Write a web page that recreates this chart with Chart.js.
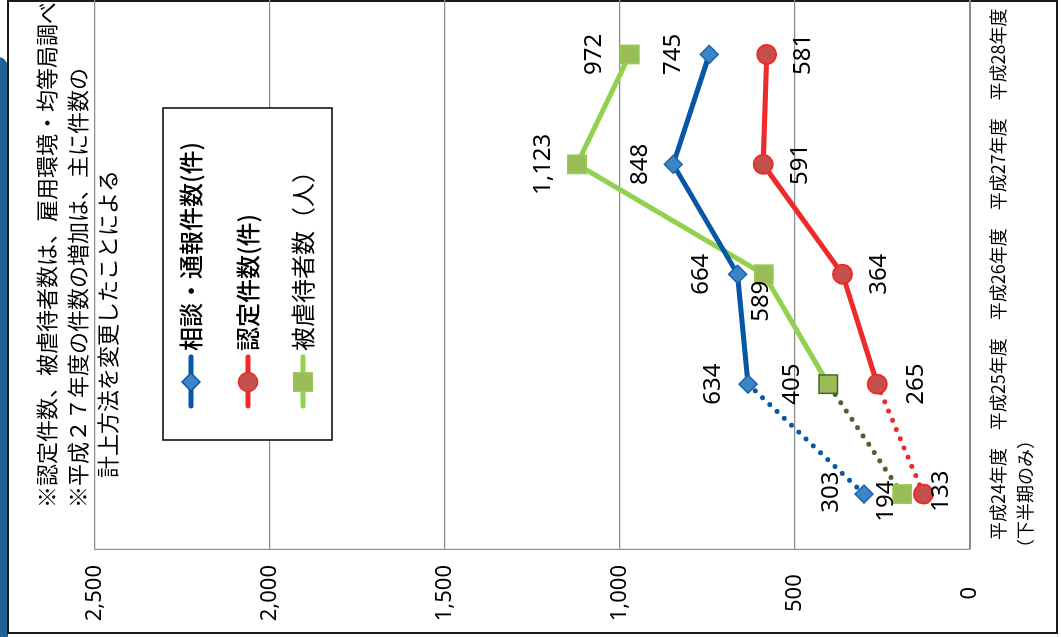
<!DOCTYPE html>
<html>
<head>
<meta charset="utf-8">
<script src="https://cdn.jsdelivr.net/npm/chart.js@4.4.1/dist/chart.umd.min.js"></script>
<style>
html, body { margin: 0; padding: 0; background: #fff; overflow: hidden; }
/* the chart is laid out upright and then turned a quarter to the left;
   the extra 15px of canvas width falls off the top edge of the page */
#wrap { position: absolute; left: 0; top: 0; width: 652px; height: 1061px;
        transform-origin: 0 0; transform: translateY(637px) rotate(-90deg); }
</style>
</head>
<body>
<div id="wrap"><canvas id="chart" width="652" height="1061"></canvas></div>
<script>
// data
const years = [['平成24年度', '（下半期のみ）'], '平成25年度', '平成26年度', '平成27年度', '平成28年度'];
const consultations = [303, 634, 664, 848, 745];
const certified = [133, 265, 364, 591, 581];
const victims = [194, 405, 589, 1123, 972];
const valueTicks = [0, 500, 1000, 1500, 2000, 2500];
const seriesNames = ['相談・通報件数(件)', '認定件数(件)', '被虐待者数（人）'];
const notes = [
    '※認定件数、被虐待者数は、雇用環境・均等局調べ',
    '※平成２７年度の件数の増加は、主に件数の',
    '計上方法を変更したことによる'
];

const JP = '"Noto Sans CJK JP", "Noto Sans", sans-serif';
const NUM = '"Noto Sans", "Liberation Sans", sans-serif';

// first segment (H24 -> H25) is dotted
function dotted(ctx) {
    return ctx.p0DataIndex === 0 ? [0, 10] : undefined;
}

function drawMarker(c, style, x, y, r, fill, stroke, bw) {
    c.save();
    c.fillStyle = fill;
    c.strokeStyle = stroke;
    c.lineWidth = bw;
    c.beginPath();
    if (style === 'circle') {
        c.arc(x, y, r, 0, Math.PI * 2);
    } else if (style === 'rectRot') {
        c.moveTo(x, y - r); c.lineTo(x + r, y); c.lineTo(x, y + r); c.lineTo(x - r, y); c.closePath();
    } else {
        const s = r * Math.SQRT1_2;
        c.rect(x - s, y - s, 2 * s, 2 * s);
    }
    c.fill();
    c.stroke();
    c.restore();
}

const decor = {
    id: 'decor',
    beforeDraw(chart) {
        const c = chart.ctx;
        c.save();
        c.fillStyle = '#fff';
        c.fillRect(0, 0, chart.width, chart.height);
        c.fillStyle = '#23609a';
        c.beginPath();
        c.roundRect(-20, -20, 600, 28, 10);
        c.fill();
        c.strokeStyle = '#1a1a1a';
        c.lineWidth = 2;
        c.strokeRect(4, 8, 632, 1049);
        c.restore();
    },
    afterDatasetsDraw(chart) {
        const c = chart.ctx;
        c.save();
        c.font = '24px ' + NUM;
        c.fillStyle = '#000';
        c.textAlign = 'center';
        c.textBaseline = 'middle';
        chart.data.datasets.forEach((ds, i) => {
            chart.getDatasetMeta(i).data.forEach((pt, j) => {
                const off = ds.labelShift[j];
                c.fillText(ds.data[j].toLocaleString('en-US'), pt.x + off[0], pt.y + off[1]);
            });
        });
        c.restore();
    },
    afterDraw(chart) {
        const c = chart.ctx;
        c.save();
        // notes
        c.font = '22px ' + JP;
        c.fillStyle = '#000';
        c.textBaseline = 'middle';
        c.textAlign = 'left';
        c.fillText(notes[0], 129, 47);
        c.fillText(notes[1], 129, 78);
        c.fillText(notes[2], 159, 108);
        // legend
        c.fillStyle = '#fff';
        c.fillRect(197, 163, 332, 169);
        c.strokeStyle = '#000';
        c.lineWidth = 1.5;
        c.strokeRect(197, 163, 332, 169);
        const rows = [191, 248, 303];
        const weights = ['500', '500', 'normal'];
        chart.data.datasets.forEach((ds, i) => {
            const y = rows[i];
            c.strokeStyle = ds.borderColor;
            c.lineWidth = 5;
            c.lineCap = 'round';
            c.beginPath();
            c.moveTo(231, y);
            c.lineTo(280, y);
            c.stroke();
            drawMarker(c, ds.pointStyle, 255, y, ds.pointRadius, ds.pointBackgroundColor,
                ds.borderColor, 1.5);
            c.fillStyle = '#000';
            c.font = weights[i] + ' 24px ' + JP;
            c.textAlign = 'left';
            c.fillText(seriesNames[i], 286, y);
        });
        c.restore();
    }
};

new Chart(document.getElementById('chart'), {
    type: 'line',
    data: {
        labels: years,
        datasets: [
            {
                label: seriesNames[0],
                data: consultations,
                borderColor: '#0857a6',
                borderWidth: 5,
                borderCapStyle: 'round',
                pointStyle: 'rectRot',
                pointRadius: 9,
                pointBackgroundColor: '#3b85c7',
                pointBorderColor: '#1f63ab',
                pointBorderWidth: 1.5,
                segment: { borderDash: dotted },
                labelShift: [[2, -33], [0, -35], [0, -36], [0, -33], [0, -36]]
            },
            {
                label: seriesNames[1],
                data: certified,
                borderColor: '#ee2a2a',
                borderWidth: 5,
                borderCapStyle: 'round',
                pointStyle: 'circle',
                pointRadius: 9.5,
                pointBackgroundColor: '#c4504e',
                pointBorderColor: '#ee2a2a',
                pointBorderWidth: 2,
                segment: { borderDash: dotted },
                labelShift: [[3, 18], [0, 39], [0, 37], [0, 37], [0, 37]]
            },
            {
                label: seriesNames[2],
                data: victims,
                borderColor: '#92d050',
                borderWidth: 5,
                borderCapStyle: 'round',
                pointStyle: 'rect',
                pointRadius: 13,
                pointBackgroundColor: '#9bbb59',
                pointBorderColor: ['#92d050', '#4f6228', '#92d050', '#92d050', '#92d050'],
                pointBorderWidth: 1.5,
                segment: {
                    borderDash: dotted,
                    borderColor: ctx => ctx.p0DataIndex === 0 ? '#4f6228' : undefined
                },
                labelShift: [[-7, -16], [0, -36], [-27, -3], [0, -34], [0, -36]]
            }
        ]
    },
    options: {
        responsive: false,
        animation: false,
        devicePixelRatio: 1,
        locale: 'en-US',
        layout: { padding: { top: 95, left: 0, right: 0, bottom: 0 } },
        plugins: {
            legend: { display: false },
            tooltip: { enabled: false }
        },
        scales: {
            x: {
                offset: true,
                grid: { display: false },
                border: { display: true, color: '#8c8c8c', width: 1 },
                ticks: {
                    autoSkip: false,
                    maxRotation: 0,
                    padding: 7,
                    color: '#000',
                    font: { family: JP, size: 18, lineHeight: 1.5 }
                },
                afterFit(scale) {
                    scale.height = 91;
                    scale.paddingLeft = 0;
                    scale.paddingRight = 0;
                }
            },
            y: {
                min: valueTicks[0],
                max: valueTicks[valueTicks.length - 1],
                afterBuildTicks(scale) { scale.ticks = valueTicks.map(v => ({ value: v })); },
                grid: { color: '#8c8c8c', lineWidth: 1.2, drawTicks: false },
                border: { display: true, color: '#8c8c8c', width: 1.2 },
                ticks: {
                    crossAlign: 'center',
                    padding: 16,
                    color: '#000',
                    font: { family: NUM, size: 22 }
                },
                afterFit(scale) { scale.width = 88; }
            }
        }
    },
    plugins: [decor]
});
</script>
</body>
</html>
